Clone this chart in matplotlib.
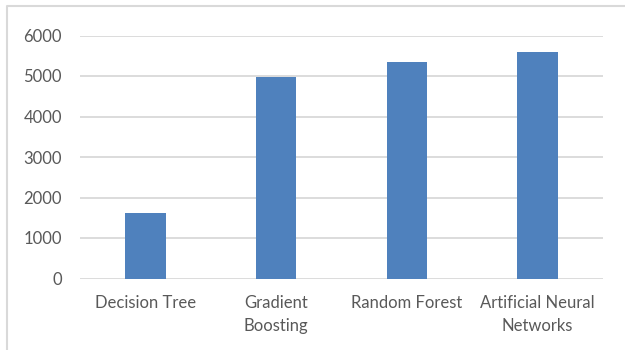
import matplotlib
matplotlib.use("Agg")
import matplotlib.pyplot as plt
from matplotlib.lines import Line2D

categories = ["Decision Tree", "Gradient\nBoosting", "Random Forest", "Artificial Neural\nNetworks"]
values = [1625, 4985, 5350, 5600]
yticks = [0, 1000, 2000, 3000, 4000, 5000, 6000]

plt.rcParams["font.family"] = ["Lato", "DejaVu Sans"]
text_color = "#595959"
grid_color = "#d9d9d9"
bar_color = "#4f81bd"

fig = plt.figure(figsize=(6.25, 3.5), dpi=100)

# chart-area frame: left and top edges only
fx = 6.5 / 625
fy = 1 - 5.5 / 350
fig.lines.append(Line2D([fx, fx, 1.0], [0.0, fy, fy], transform=fig.transFigure,
                        color=grid_color, linewidth=1.5))

ax = fig.add_axes([80 / 625, (350 - 278.5) / 350, 523 / 625, (278.5 - 35.5) / 350])
x = range(len(categories))
ax.bar(x, values, width=0.31, color=bar_color, zorder=3)

ax.set_xlim(-0.5, len(categories) - 0.5)
ax.set_ylim(0, 6000)
ax.set_yticks(yticks)
ax.set_yticklabels([str(v) for v in yticks])
ax.set_xticks(list(x))
ax.set_xticklabels(categories, linespacing=1.55)

ax.yaxis.grid(True, color=grid_color, linewidth=1.3, zorder=0)
ax.set_axisbelow(True)
for s in ax.spines.values():
    s.set_visible(False)
ax.tick_params(axis="y", length=0, pad=13, labelsize=12, labelcolor=text_color)
ax.tick_params(axis="x", length=0, pad=12, labelsize=12, labelcolor=text_color)

fig.savefig("out.png", dpi=100)
